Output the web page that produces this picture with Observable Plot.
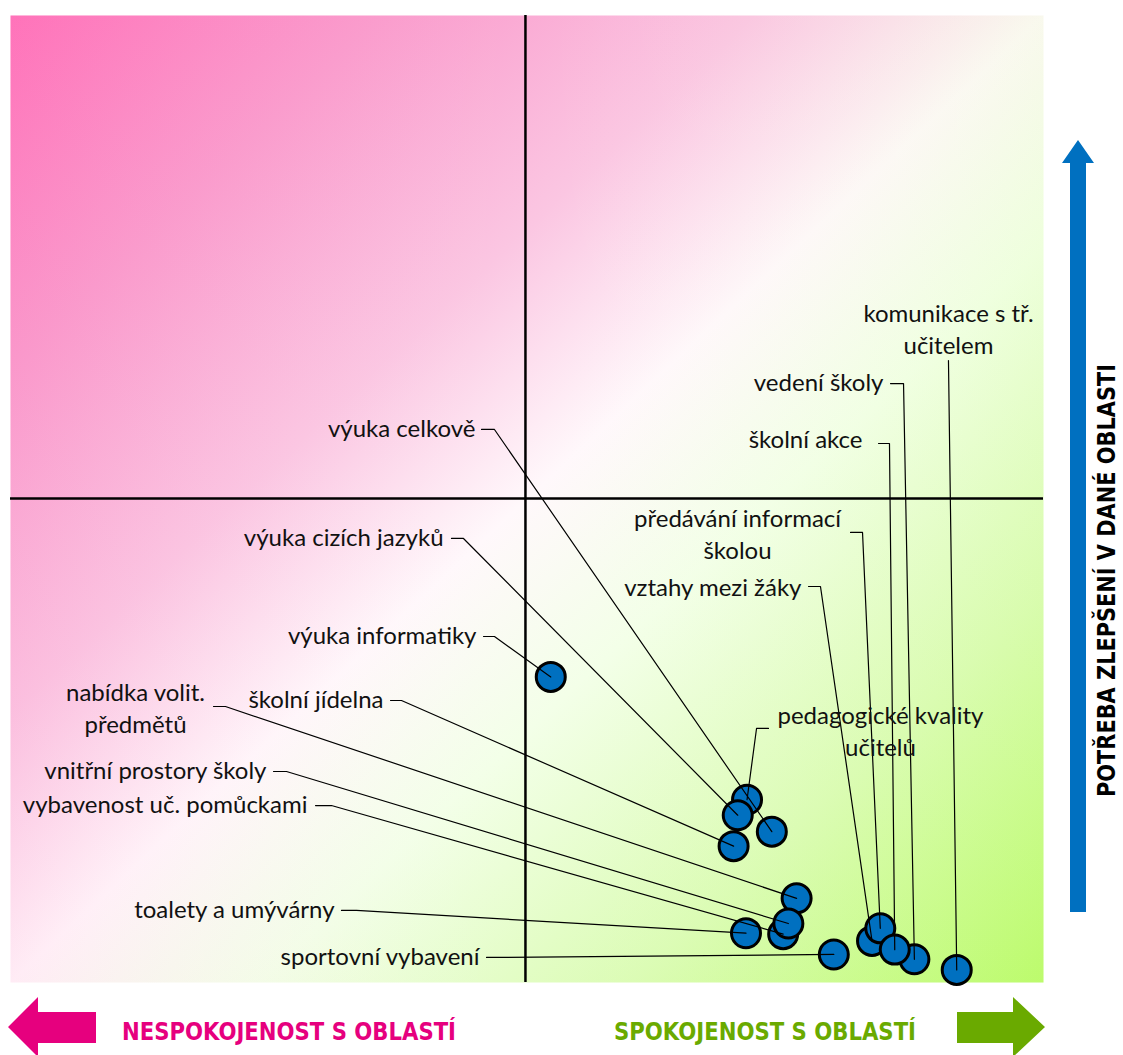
<!DOCTYPE html>
<html>
<head>
<meta charset="utf-8">
<script src="https://cdn.jsdelivr.net/npm/d3@7"></script>
<script src="https://cdn.jsdelivr.net/npm/@observablehq/plot@0.6"></script>
<style>
  html, body { margin: 0; padding: 0; background: #fff; }
  svg { display: block; }
</style>
</head>
<body>
<div id="chart"></div>
<script>
// ---- data: areas, satisfaction (x) and need for improvement (y), 0–100 scale ----
const areas = [
  "výuka informatiky", "pedagogické kvality učitelů", "výuka cizích jazyků", "výuka celkově",
  "školní jídelna", "nabídka volit. předmětů", "vybavenost uč. pomůckami", "vnitřní prostory školy",
  "toalety a umývárny", "sportovní vybavení", "vztahy mezi žáky", "předávání informací školou",
  "vedení školy", "školní akce", "komunikace s tř. učitelem"
];
const satisfaction = [52.3, 71.3, 70.4, 73.7, 70.0, 76.1, 74.8, 75.3, 71.2, 79.7, 83.4, 84.2, 87.5, 85.6, 91.6];
const improvementNeed = [31.6, 18.9, 17.3, 15.6, 14.1, 8.7, 5.0, 6.1, 5.1, 2.9, 4.3, 5.6, 2.4, 3.4, 1.3];

// label texts (line breaks as in the chart) and label placement (in data units)
const labelLines = [
  "výuka informatiky", "pedagogické kvality\nučitelů", "výuka cizích jazyků", "výuka celkově",
  "školní jídelna", "nabídka volit.\npředmětů", "vybavenost uč. pomůckami", "vnitřní prostory školy",
  "toalety a umývárny", "sportovní vybavení", "vztahy mezi žáky", "předávání informací\nškolou",
  "vedení školy", "školní akce", "komunikace s tř.\nučitelem"
];
const labelAlign = ["end", "middle", "end", "end", "end", "middle", "end", "end", "end", "end", "end", "middle", "end", "end", "middle"];
const labelX = [45.11, 84.22, 41.92, 45.01, 36.11, 12.10, 28.75, 24.78, 31.37, 45.40, 76.57, 70.38, 84.51, 82.48, 90.80];
const labelY = [35.78, 26.16, 45.92, 57.19, 29.16, 28.54, 18.30, 21.82, 7.45, 2.59, 40.74, 46.54, 61.94, 56.05, 67.74];
const leaderStartX = [45.79, 73.38, 42.69, 45.60, 36.79, 19.65, 29.53, 25.46, 32.04, 46.08, 77.25, 81.32, 85.19, 84.03, 90.80];
const leaderBendX  = [46.85, 72.22, 43.85, 46.85, 37.85, 20.81, 31.07, 26.72, 33.49, 47.14, 78.41, 82.48, 86.45, 85.09, 90.80];
const leaderY      = [35.78, 26.27, 45.92, 57.19, 29.16, 28.54, 18.30, 21.82, 7.45, 2.59, 40.95, 46.54, 61.94, 55.74, 64.32];

const midX = 49.85; // quadrant divider (satisfaction)
const midY = 50.05; // quadrant divider (need for improvement)

// ---- build tables ----
const points = areas.map((a, i) => ({name: a, x: satisfaction[i], y: improvementNeed[i]}));
const labels = areas.map((a, i) => ({name: a, text: labelLines[i], x: labelX[i], y: labelY[i], align: labelAlign[i]}));
const leaders = areas.flatMap((a, i) => [
  {name: a, x: leaderStartX[i], y: leaderY[i]},
  {name: a, x: leaderBendX[i], y: leaderY[i]},
  {name: a, x: satisfaction[i], y: improvementNeed[i]}
]);

const FONT = "Lato, 'Open Sans', sans-serif";
const chart = Plot.plot({
  width: 1123,
  height: 1055,
  marginLeft: 10,
  marginRight: 80,
  marginTop: 15,
  marginBottom: 73,
  x: {domain: [0, 100], axis: null},
  y: {domain: [0, 100], axis: null},
  style: {fontFamily: FONT, background: "#fff", color: "#111"},
  marks: [
    Plot.frame({fill: "url(#bgDiag)", stroke: "none"}),
    Plot.frame({fill: "url(#bgHoriz)", stroke: "none"}),
    Plot.ruleX([midX], {stroke: "#000", strokeWidth: 2.5}),
    Plot.ruleY([midY], {stroke: "#000", strokeWidth: 2.5}),
    Plot.dot(points, {x: "x", y: "y", r: 14.5, fill: "#0070C0", stroke: "#000", strokeWidth: 3}),
    Plot.line(leaders, {x: "x", y: "y", z: "name", stroke: "#000", strokeWidth: 1.2, curve: "linear"}),
    Plot.text(labels.filter(d => d.align === "end"), {
      x: "x", y: "y", text: "text", textAnchor: "end", lineAnchor: "middle",
      fontSize: 24, fill: "#111"
    }),
    Plot.text(labels.filter(d => d.align === "middle"), {
      x: "x", y: "y", text: "text", textAnchor: "middle", lineAnchor: "middle",
      fontSize: 24, lineHeight: 1.33, fill: "#111"
    })
  ]
});

document.getElementById("chart").appendChild(chart);

// ---- background gradients ----
const svg = d3.select(chart);
const defs = svg.insert("defs", ":first-child");
const diag = defs.append("linearGradient").attr("id", "bgDiag")
  .attr("x1", 0).attr("y1", 0).attr("x2", 1).attr("y2", 1);
[
  [0, "#FF72B9"], [0.18, "#FA9BCC"], [0.36, "#FBC6E2"], [0.5, "#FFF8FB"],
  [0.62, "#F3FFE8"], [0.8, "#DBFCB4"], [1, "#BCFB6C"]
].forEach(([o, c]) => diag.append("stop").attr("offset", o).attr("stop-color", c));
const horiz = defs.append("linearGradient").attr("id", "bgHoriz")
  .attr("x1", 0).attr("y1", 0).attr("x2", 1).attr("y2", 0);
[
  [0, "#FF7ABF", 0.10], [0.5, "#FFFFFF", 0], [1, "#BFFF70", 0.10]
].forEach(([o, c, a]) => horiz.append("stop").attr("offset", o).attr("stop-color", c).attr("stop-opacity", a));

// ---- direction arrows and captions ----
const deco = svg.append("g").attr("text-anchor", "start");
deco.append("path")
  .attr("d", "M1070,912 L1070,163 L1062,163 L1078,140 L1094,163 L1086,163 L1086,912 Z")
  .attr("fill", "#0070C0");
deco.append("path")
  .attr("d", "M96,1012 L38,1012 L38,997 L8,1027 L38,1057 L38,1043 L96,1043 Z")
  .attr("fill", "#E6007E");
deco.append("path")
  .attr("d", "M957,1012 L1013,1012 L1013,997 L1045,1027 L1013,1057 L1013,1043 L957,1043 Z")
  .attr("fill", "#6AAA00");

const CAPFONT = "'DejaVu Sans Condensed', 'Liberation Sans Narrow', Roboto, sans-serif";
deco.append("text")
  .attr("x", 122).attr("y", 1040).attr("text-anchor", "start")
  .attr("font-family", CAPFONT).attr("font-weight", "bold").attr("font-size", 25)
  .attr("textLength", 334).attr("lengthAdjust", "spacingAndGlyphs")
  .attr("fill", "#E6007E")
  .text("NESPOKOJENOST S OBLASTÍ");
deco.append("text")
  .attr("x", 614).attr("y", 1040).attr("text-anchor", "start")
  .attr("font-family", CAPFONT).attr("font-weight", "bold").attr("font-size", 25)
  .attr("textLength", 302).attr("lengthAdjust", "spacingAndGlyphs")
  .attr("fill", "#6AAA00")
  .text("SPOKOJENOST S OBLASTÍ");
deco.append("text")
  .attr("transform", "translate(1115,797) rotate(-90)").attr("text-anchor", "start")
  .attr("font-family", CAPFONT).attr("font-weight", "bold").attr("font-size", 24)
  .attr("textLength", 433).attr("lengthAdjust", "spacingAndGlyphs")
  .attr("fill", "#000")
  .text("POTŘEBA ZLEPŠENÍ V DANÉ OBLASTI");
</script>
</body>
</html>
